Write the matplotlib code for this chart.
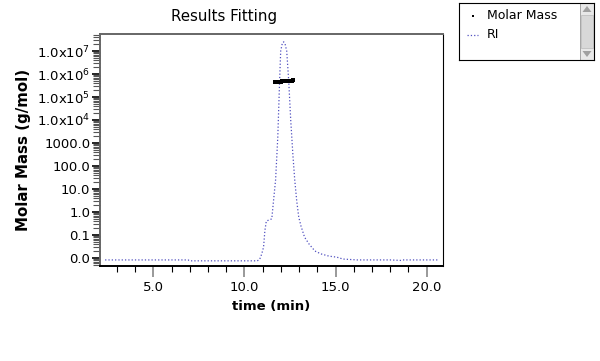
import numpy as np
import matplotlib
matplotlib.use("Agg")
import matplotlib.pyplot as plt
from matplotlib.ticker import FixedLocator, LogLocator, MultipleLocator, NullFormatter
from matplotlib.patches import Rectangle, Polygon

# RI trace (time in min, signal plotted on the log axis)
ri_time = [2.35, 4.0, 6.9, 7.0, 9.0, 10.7, 10.83, 10.95, 11.05, 11.12, 11.2, 11.35, 11.5,
           11.6, 11.71, 11.83, 11.93, 11.99, 12.08, 12.15, 12.22, 12.32, 12.43, 12.54,
           12.66, 12.76, 12.87, 12.98, 13.1, 13.3, 13.55, 13.87, 14.2, 14.64, 15.0,
           15.25, 15.36, 16.2, 18.0, 18.6, 18.7, 20.7]
ri_value = [0.0082, 0.0082, 0.0082, 0.0075, 0.0075, 0.0075, 0.0085, 0.015, 0.03, 0.15,
            0.4, 0.45, 0.5, 3.3, 25, 1800, 5e5, 1e7, 2.2e7, 2.5e7, 2.2e7, 1e7, 5e5, 1e4,
            300, 25, 3, 0.6, 0.25, 0.08, 0.04, 0.02, 0.015, 0.012, 0.011, 0.01, 0.009,
            0.0082, 0.0082, 0.0078, 0.0082, 0.0082]

# Molar mass points
mm_time = [11.66, 11.72, 11.78, 11.84, 11.9, 11.96, 12.02, 12.08, 12.14, 12.2, 12.26,
           12.32, 12.38, 12.44, 12.5, 12.56, 12.62, 12.66]
mm_value = [4.4e5, 4.45e5, 4.5e5, 4.55e5, 4.6e5, 4.65e5, 4.7e5, 4.75e5, 4.8e5, 4.85e5,
            4.9e5, 4.95e5, 5.0e5, 5.05e5, 5.1e5, 5.15e5, 5.2e5, 5.25e5]

ytick_vals = [0.01, 0.1, 1, 10, 100, 1000, 1e4, 1e5, 1e6, 1e7]
ytick_labels = ["0.0", "0.1", "1.0", "10.0", "100.0", "1000.0",
                r"1.0x10$^{4}$", r"1.0x10$^{5}$", r"1.0x10$^{6}$", r"1.0x10$^{7}$"]
xtick_vals = [5, 10, 15, 20]
xtick_labels = ["5.0", "10.0", "15.0", "20.0"]

plt.rcParams['font.family'] = ['DejaVu Sans']
plt.rcParams['mathtext.default'] = 'regular'

fig = plt.figure(figsize=(6, 3.61), dpi=100)
ax = fig.add_axes([100/600, 1-266/361, 343/600, 232/361])

ax.plot(ri_time, ri_value, linestyle=':', color='#5050c0', linewidth=0.9)
ax.plot(mm_time, mm_value, linestyle='none', marker='s', markersize=3, markeredgewidth=0,
        color='black')

ax.set_yscale('log')
ax.set_ylim(10**-2.35, 10**7.74)
ax.set_xlim(2.07, 20.9)

ax.yaxis.set_major_locator(FixedLocator(ytick_vals))
ax.set_yticklabels(ytick_labels)
ax.yaxis.set_minor_locator(LogLocator(base=10, subs=np.arange(2, 10), numticks=20))
ax.yaxis.set_minor_formatter(NullFormatter())
ax.set_xticks(xtick_vals)
ax.set_xticklabels(xtick_labels)
ax.xaxis.set_minor_locator(MultipleLocator(1))

ax.tick_params(axis='y', which='major', direction='out', length=6, width=1.2,
               labelsize=9.5, pad=1, color='black')
ax.tick_params(axis='y', which='minor', direction='out', length=5, width=0.8, color='#555555')
ax.tick_params(axis='x', which='major', direction='out', length=8, width=1.2,
               labelsize=9.5, pad=3, color='#888888')
ax.tick_params(axis='x', which='minor', direction='out', length=4, width=0.8, color='black')

for s in ['top', 'left']:
    ax.spines[s].set_color('#666666')
    ax.spines[s].set_linewidth(1.4)
ax.spines['bottom'].set_linewidth(1.4)
ax.spines['right'].set_linewidth(0.8)

fig.text(224/600, 1-17/361, "Results Fitting", fontsize=10.8, ha='center', va='center')
ax.set_xlabel("time (min)", fontsize=9.5, fontweight='bold', labelpad=4)
ax.set_ylabel("Molar Mass (g/mol)", fontsize=10.8, fontweight='bold', labelpad=4)

# legend box with scroll bar
lg = fig.add_axes([459/600, 1-60/361, 135/600, 57/361])
lg.set_xlim(0, 135)
lg.set_ylim(57, 0)
lg.set_xticks([])
lg.set_yticks([])
for s in lg.spines.values():
    s.set_linewidth(0.8)
lg.plot([14], [13], marker='s', markersize=1.8, markeredgewidth=0, color='black')
lg.plot([8, 19], [32, 32], linestyle=':', color='#5050c0', linewidth=0.9)
lg.text(28, 13, "Molar Mass", fontsize=9, va='center')
lg.text(28, 32, "RI", fontsize=9, va='center')
lg.add_patch(Rectangle((121, 0), 14, 57, facecolor='#e8e8e8', edgecolor='#999999', linewidth=0.6))
lg.add_patch(Rectangle((122, 12), 12, 33, facecolor='#d8d8d8', edgecolor='#bbbbbb', linewidth=0.5))
lg.add_patch(Polygon([[123.5, 9], [132.5, 9], [128, 3]], closed=True, facecolor='#a0a0a0', edgecolor='none'))
lg.add_patch(Polygon([[123.5, 48], [132.5, 48], [128, 54]], closed=True, facecolor='#a0a0a0', edgecolor='none'))

fig.savefig("out.png", dpi=100)
